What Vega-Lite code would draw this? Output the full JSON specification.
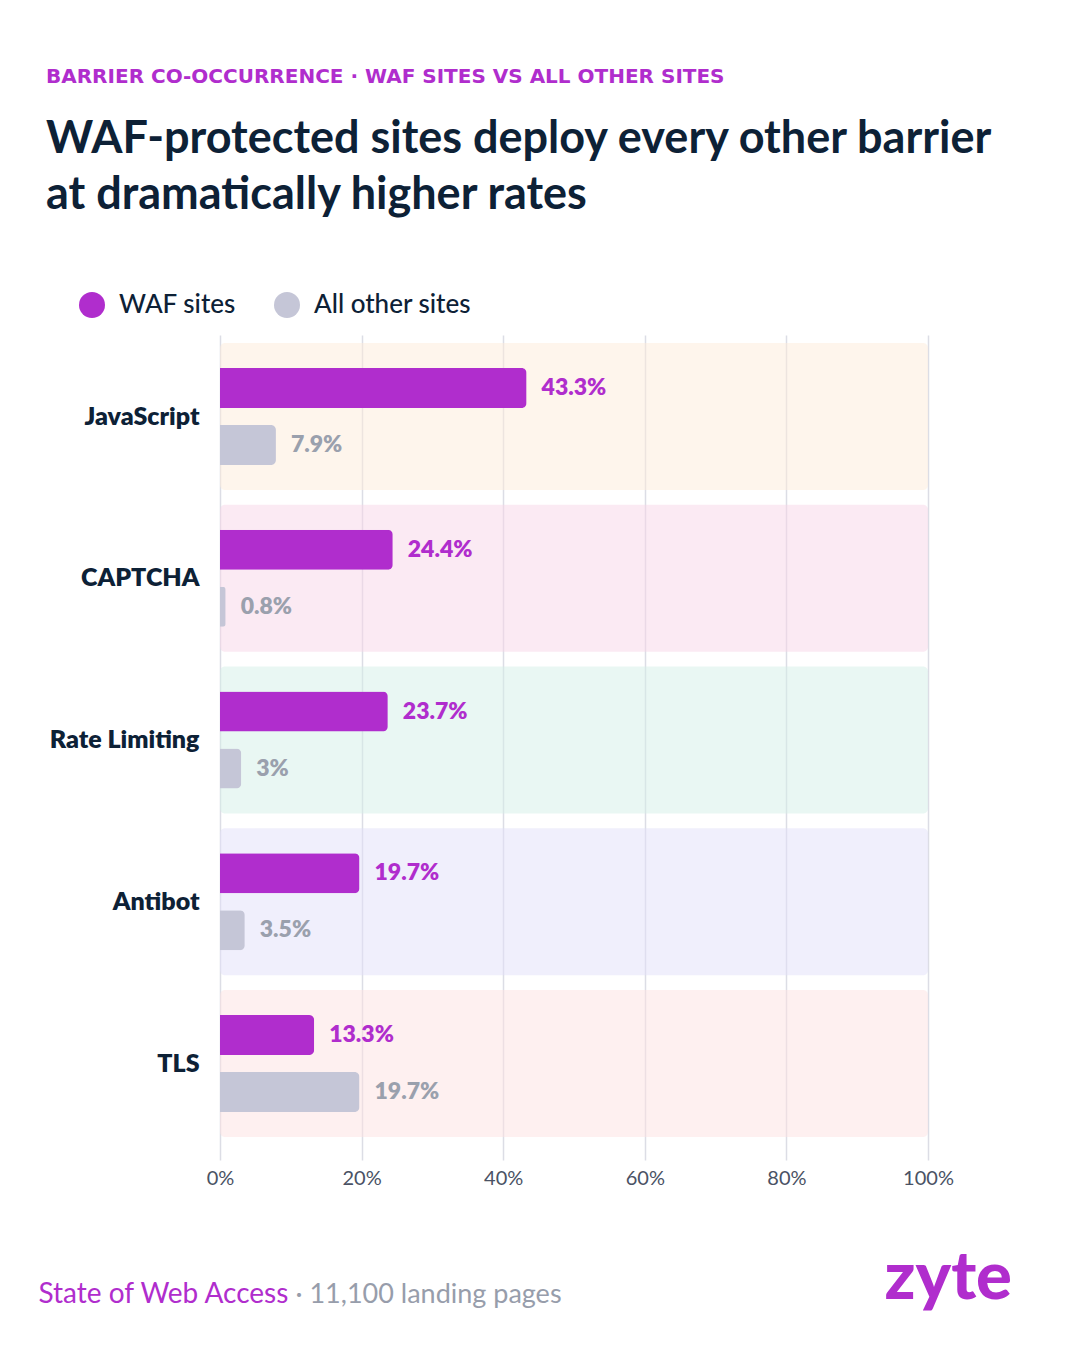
{
  "$schema": "https://vega.github.io/schema/vega-lite/v6.json",
  "width": 708,
  "height": 825,
  "autosize": {"type": "none"},
  "padding": {"left": 220, "top": 335, "right": 152, "bottom": 190},
  "background": "white",
  "title": {
    "text": "BARRIER CO-OCCURRENCE · WAF SITES VS ALL OTHER SITES",
    "subtitle": ["WAF-protected sites deploy every other barrier", "at dramatically higher rates"],
    "anchor": "start",
    "frame": "group",
    "dx": -174,
    "dy": -34,
    "offset": 40,
    "font": "DejaVu Sans",
    "fontSize": 20,
    "fontWeight": 700,
    "color": "#b02dcd",
    "subtitleFont": "Lato",
    "subtitleFontSize": 45,
    "subtitleFontWeight": 700,
    "subtitleColor": "#0d2136",
    "subtitleLineHeight": 56,
    "subtitlePadding": 30
  },
  "datasets": {
    "rates": [
      {"barrier": "JavaScript", "series": "WAF sites", "share": 0.433},
      {"barrier": "JavaScript", "series": "All other sites", "share": 0.079},
      {"barrier": "CAPTCHA", "series": "WAF sites", "share": 0.244},
      {"barrier": "CAPTCHA", "series": "All other sites", "share": 0.008},
      {"barrier": "Rate Limiting", "series": "WAF sites", "share": 0.237},
      {"barrier": "Rate Limiting", "series": "All other sites", "share": 0.03},
      {"barrier": "Antibot", "series": "WAF sites", "share": 0.197},
      {"barrier": "Antibot", "series": "All other sites", "share": 0.035},
      {"barrier": "TLS", "series": "WAF sites", "share": 0.133},
      {"barrier": "TLS", "series": "All other sites", "share": 0.197}
    ]
  },
  "data": {"name": "rates"},
  "encoding": {
    "y": {
      "field": "barrier",
      "type": "nominal",
      "sort": ["JavaScript", "CAPTCHA", "Rate Limiting", "Antibot", "TLS"],
      "scale": {"paddingInner": 0.0912, "paddingOuter": 0.0958, "align": 0.26},
      "axis": {
        "title": "· 11,100 landing pages",
        "titleAngle": 0,
        "titleAlign": "left",
        "titleBaseline": "alphabetic",
        "titleX": 75,
        "titleY": 967,
        "titleFont": "Lato",
        "titleFontSize": 27,
        "titleFontWeight": 400,
        "titleColor": "#979dab",
        "domain": false,
        "ticks": false,
        "labelPadding": 21,
        "labelFont": "Lato",
        "labelFontSize": 25,
        "labelFontWeight": 800,
        "labelColor": "#0d2136"
      }
    }
  },
  "layer": [
    {
      "transform": [{"filter": "datum.series == 'WAF sites'"}],
      "mark": {"type": "rect", "cornerRadius": 5, "opacity": 0.5},
      "encoding": {
        "x": {
          "datum": 0,
          "type": "quantitative",
          "scale": {"domain": [0, 1], "nice": false},
          "axis": {
            "orient": "bottom",
            "format": "%",
            "values": [0, 0.2, 0.4, 0.6, 0.8, 1],
            "grid": true,
            "gridColor": "#dcdde5",
            "gridWidth": 1.5,
            "domain": false,
            "ticks": false,
            "labelFlush": false,
            "labelPadding": 8,
            "labelFont": "Lato",
            "labelFontSize": 20,
            "labelFontWeight": 400,
            "labelColor": "#4a5264",
            "title": "State of Web Access",
            "titleAnchor": "start",
            "titleAlign": "left",
            "titleBaseline": "alphabetic",
            "titleX": -182,
            "titleY": 142,
            "titleFont": "Lato",
            "titleFontSize": 28,
            "titleFontWeight": 400,
            "titleColor": "#b02dcd"
          }
        },
        "x2": {"datum": 1},
        "fill": {
          "field": "barrier",
          "type": "nominal",
          "legend": null,
          "scale": {
            "domain": ["JavaScript", "CAPTCHA", "Rate Limiting", "Antibot", "TLS"],
            "range": ["#fdebd9", "#f7d5e7", "#d3efe7", "#e1dff9", "#fde1e1"]
          }
        }
      }
    },
    {
      "mark": {"type": "bar", "cornerRadiusEnd": 5},
      "encoding": {
        "x": {
          "field": "share",
          "type": "quantitative",
          "scale": {"domain": [0, 1], "nice": false},
          "axis": {
            "orient": "bottom",
            "labels": false,
            "grid": false,
            "domain": false,
            "ticks": false,
            "title": "zyte",
            "titleAnchor": "start",
            "titleAlign": "left",
            "titleBaseline": "alphabetic",
            "titleX": 664,
            "titleY": 138,
            "titleFont": "Lato",
            "titleFontSize": 67,
            "titleFontWeight": 900,
            "titleColor": "#b02dcd"
          }
        },
        "yOffset": {
          "field": "series",
          "scale": {"domain": ["WAF sites", "All other sites"], "paddingInner": 0.298, "paddingOuter": 0.4386}
        },
        "color": {
          "field": "series",
          "type": "nominal",
          "scale": {"domain": ["WAF sites", "All other sites"], "range": ["#b02dcd", "#c5c6d7"]},
          "legend": {
            "title": null,
            "orient": "none",
            "direction": "horizontal",
            "legendX": -141,
            "legendY": -43,
            "symbolType": "circle",
            "symbolSize": 676,
            "symbolStrokeWidth": 0,
            "labelFont": "Lato",
            "labelFontSize": 26,
            "labelFontWeight": 500,
            "labelColor": "#0d2136",
            "labelOffset": 14,
            "columnPadding": 38
          }
        }
      }
    },
    {
      "mark": {"type": "text", "align": "left", "baseline": "middle", "dx": 15, "font": "Lato", "fontSize": 23, "fontWeight": 800},
      "encoding": {
        "x": {"field": "share", "type": "quantitative", "axis": null},
        "yOffset": {"field": "series"},
        "text": {"field": "share", "type": "quantitative", "format": ".1~%"},
        "color": {
          "condition": {"test": "datum.series == 'WAF sites'", "value": "#b02dcd"},
          "value": "#9aa0ad"
        }
      }
    }
  ],
  "resolve": {"axis": {"x": "independent"}},
  "config": {"view": {"stroke": null}}
}
